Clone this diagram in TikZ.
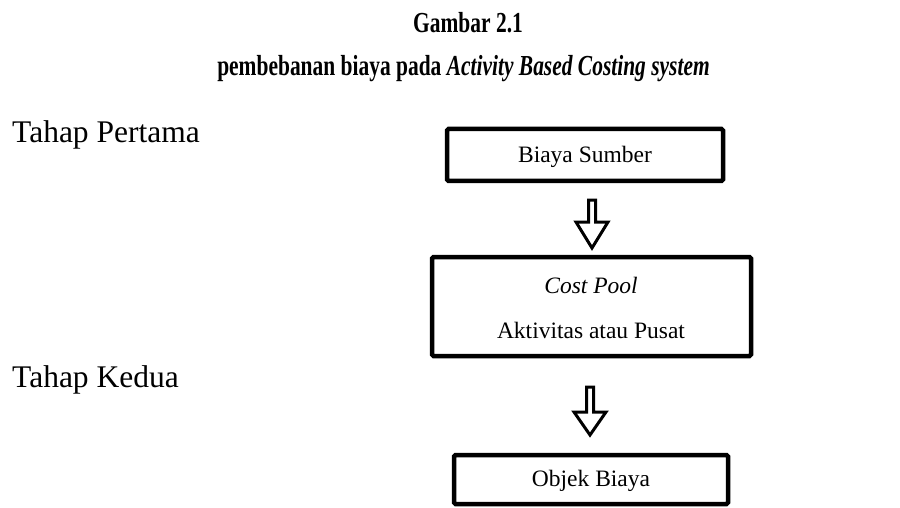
\documentclass[tikz,border=0pt]{standalone}
\usepackage{fontspec}
\usepackage{graphicx}
\setmainfont{Liberation Serif}
\usetikzlibrary{calc}
\begin{document}
\begin{tikzpicture}[x=1pt,y=-1pt,
  boxnode/.style={draw=black, line width=4.5pt, rounded corners=1.5pt, inner sep=0pt},
  boxtext/.style={font=\fontsize{23.5}{26}\selectfont, anchor=base, inner sep=0pt},
  stagetext/.style={font=\fontsize{31.5}{34}\selectfont, anchor=base west, inner sep=0pt},
  titletext/.style={font=\bfseries\fontsize{29}{32}\selectfont, anchor=base, inner sep=0pt},
  hollowarrow/.style={draw=black, fill=white, line width=3pt, line join=miter}
]
\useasboundingbox (0,0) rectangle (900,508);
% title
\node[titletext] (t1) at (468,33) {\scalebox{0.74}[1]{Gambar 2.1}};
\node[titletext] (t2) at (463.5,76) {\scalebox{0.74}[1]{pembebanan biaya pada \textit{Activity Based Costing system}}};
% stage labels
\node[stagetext] (s1) at (12,143) {Tahap Pertama};
\node[stagetext] (s2) at (12,387) {Tahap Kedua};
% boxes
\node[boxnode, minimum width=276pt, minimum height=52pt] (b1) at (585,155) {};
\node[boxtext] (b1t) at (585,163) {Biaya Sumber};
\node[boxnode, minimum width=319pt, minimum height=99pt] (b2) at (591.5,306.5) {};
\node[boxtext] (b2a) at (591,293) {\itshape Cost Pool};
\node[boxtext] (b2b) at (591,338) {Aktivitas atau Pusat};
\node[boxnode, minimum width=274pt, minimum height=49pt] (b3) at (591,479.5) {};
\node[boxtext] (b3t) at (591,486) {Objek Biaya};
% arrows
\coordinate (a1) at (592,200);
\draw[hollowarrow] ($(a1)+(-3.5,0)$) -- ++(0,22) -- ++(-12.5,0) -- ($(a1)+(0,48)$) -- ($(a1)+(16,22)$) -- ++(-12.5,0) -- ($(a1)+(3.5,0)$) -- cycle;
\coordinate (a2) at (590,387);
\draw[hollowarrow] ($(a2)+(-3.5,0)$) -- ++(0,25) -- ++(-12.5,0) -- ($(a2)+(0,48)$) -- ($(a2)+(16,25)$) -- ++(-12.5,0) -- ($(a2)+(3.5,0)$) -- cycle;
\end{tikzpicture}
\end{document}
